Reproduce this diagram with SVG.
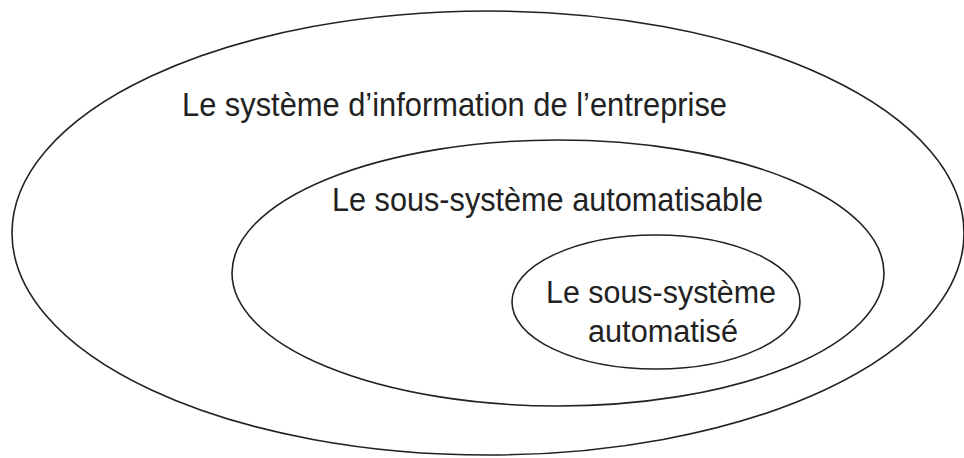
<svg xmlns="http://www.w3.org/2000/svg" width="964" height="458" viewBox="0 0 964 458">
<style>
.e{fill:none;stroke:#222;stroke-width:1.6}
.t{font-family:"Liberation Sans",Arial,sans-serif;font-size:33px;fill:#222}
.s{font-size:31px}
</style>
<rect width="964" height="458" fill="#fff"/>
<g id="outer">
<ellipse class="e" cx="488" cy="233" rx="476" ry="222"/>
<text class="t" x="182" y="116" textLength="545" lengthAdjust="spacingAndGlyphs">Le système d’information de l’entreprise</text>
</g>
<g id="middle">
<ellipse class="e" cx="558" cy="273" rx="326" ry="133"/>
<text class="t" x="332" y="210.5" textLength="431" lengthAdjust="spacingAndGlyphs">Le sous-système automatisable</text>
</g>
<g id="inner">
<ellipse class="e" cx="656" cy="302" rx="144" ry="67"/>
<text class="t s" x="546" y="303" textLength="230" lengthAdjust="spacingAndGlyphs">Le sous-système</text>
<text class="t s" x="588" y="342" textLength="150" lengthAdjust="spacingAndGlyphs">automatisé</text>
</g>
<g id="connectors"></g>
</svg>
